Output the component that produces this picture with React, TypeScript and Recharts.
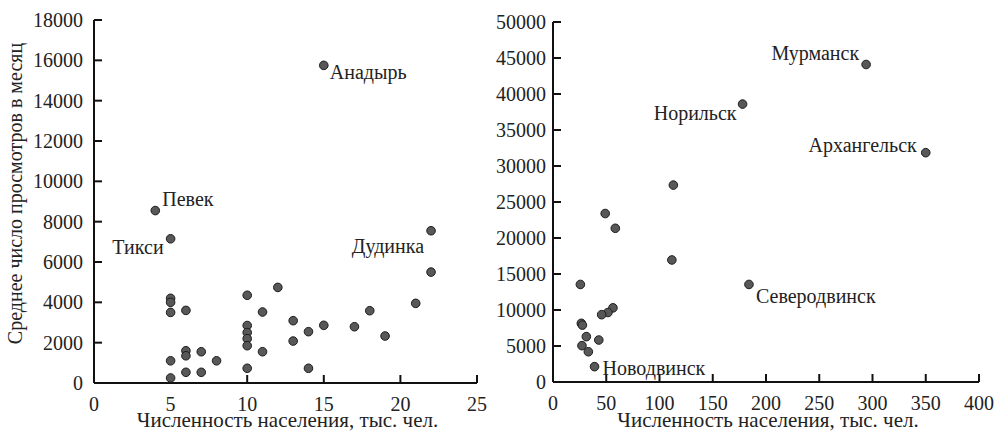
import { Scatter, ScatterChart, XAxis, YAxis } from 'recharts';

const FONT = '"Liberation Serif", "Times New Roman", serif';
const INK = '#222';
const textStyle = { fontFamily: FONT, fontSize: 20 };

// left panel: small towns
const smallPopulation = [4, 5, 15, 22, 22, 5, 5, 5, 5, 5, 6, 6, 6, 6, 7, 7, 8, 10, 10, 10, 10, 10, 10, 11, 11, 12, 13, 13, 14, 14, 15, 17, 18, 19, 21];
const smallViews = [8550, 7150, 15750, 7550, 5500, 4200, 4000, 3500, 1100, 250, 3600, 1600, 1350, 530, 1550, 530, 1100, 4350, 2850, 2500, 2200, 1850, 730, 3520, 1550, 4740, 3090, 2080, 2545, 730, 2860, 2790, 3585, 2330, 3950];
const smallNames = ['Певек', 'Тикси', 'Анадырь', 'Дудинка'];
const smallXTicks = [0, 5, 10, 15, 20, 25];
const smallYTicks = [0, 2000, 4000, 6000, 8000, 10000, 12000, 14000, 16000, 18000];

// right panel: larger cities
const bigPopulation = [294, 178, 350, 184, 39, 113, 49, 58.5, 111.6, 25.7, 56.3, 51.6, 45.7, 26.6, 27.6, 31.3, 43, 27.2, 33.2];
const bigViews = [44100, 38600, 31850, 13550, 2130, 27350, 23400, 21350, 16950, 13550, 10300, 9650, 9350, 8150, 7900, 6300, 5830, 5050, 4200];
const bigNames = ['Мурманск', 'Норильск', 'Архангельск', 'Северодвинск', 'Новодвинск'];
const bigXTicks = [0, 50, 100, 150, 200, 250, 300, 350, 400];
const bigYTicks = [0, 5000, 10000, 15000, 20000, 25000, 30000, 35000, 40000, 45000, 50000];

const xTitle = 'Численность населения, тыс. чел.';
const yTitle = 'Среднее число просмотров в месяц';

// where each city name sits relative to its dot
const labelPlacement: Record<string, { dx: number; dy: number; anchor: 'start' | 'end' }> = {
  Певек: { dx: 7, dy: -5, anchor: 'start' },
  Тикси: { dx: -7, dy: 15, anchor: 'end' },
  Анадырь: { dx: 6, dy: 14, anchor: 'start' },
  Дудинка: { dx: -7, dy: 22, anchor: 'end' },
  Мурманск: { dx: -7, dy: -4, anchor: 'end' },
  Норильск: { dx: -6, dy: 16, anchor: 'end' },
  Архангельск: { dx: -9, dy: -1, anchor: 'end' },
  Северодвинск: { dx: 7, dy: 19, anchor: 'start' },
  Новодвинск: { dx: 8, dy: 8, anchor: 'start' },
};

const buildRows = (xs: number[], ys: number[], names: string[]) =>
  xs.map((x, i) => ({ population: x, views: ys[i], name: names[i] ?? '' }));

const smallRows = buildRows(smallPopulation, smallViews, smallNames);
const bigRows = buildRows(bigPopulation, bigViews, bigNames);

const CityDot = (props: any) => {
  const { cx, cy, payload } = props;
  const place = payload?.name ? labelPlacement[payload.name] : undefined;
  return (
    <g>
      <circle cx={cx} cy={cy} r={4.3} fill="#585858" stroke="#1c1c1c" strokeWidth={1} />
      {place && (
        <text x={cx + place.dx} y={cy + place.dy} textAnchor={place.anchor} style={textStyle} fill={INK}>
          {payload.name}
        </text>
      )}
    </g>
  );
};

const XTick = ({ x, y, payload }: any) => (
  <text x={x} y={y} dy="0.71em" textAnchor="middle" style={textStyle} fill={INK}>
    {payload.value}
  </text>
);

const YTick = ({ x, y, payload }: any) => (
  <text x={x} y={y} dy="0.355em" textAnchor="end" style={textStyle} fill={INK}>
    {payload.value}
  </text>
);

const XTitle = ({ viewBox }: any) => {
  if (!viewBox) return null;
  return (
    <text
      x={viewBox.x + viewBox.width / 2 + 2}
      y={viewBox.y + viewBox.height - 10}
      textAnchor="middle"
      style={{ ...textStyle, fontSize: 21 }}
      fill={INK}
    >
      {xTitle}
    </text>
  );
};

const YTitle = ({ viewBox }: any) => {
  if (!viewBox) return null;
  const x = viewBox.x + 15;
  const y = viewBox.y + viewBox.height / 2 - 8;
  return (
    <text
      x={x}
      y={y}
      transform={`rotate(-90, ${x}, ${y})`}
      textAnchor="middle"
      dominantBaseline="central"
      style={textStyle}
      fill={INK}
    >
      {yTitle}
    </text>
  );
};

interface PanelProps {
  rows: { population: number; views: number; name: string }[];
  xTicks: number[];
  yTicks: number[];
  width: number;
  yWidth: number;
  yGap: number;
  top: number;
  right: number;
  bottom: number;
  showYTitle?: boolean;
}

function Panel({ rows, xTicks, yTicks, width, yWidth, yGap, top, right, bottom, showYTitle }: PanelProps) {
  return (
    <ScatterChart width={width} height={437} margin={{ top, right, bottom: 0, left: 0 }} style={{ fontFamily: FONT }}>
      <XAxis
        type="number"
        dataKey="population"
        domain={[xTicks[0], xTicks[xTicks.length - 1]]}
        ticks={xTicks}
        interval={0}
        height={bottom}
        stroke="#111"
        strokeWidth={2}
        tickSize={-8}
        tickMargin={22}
        tick={<XTick />}
        label={{ content: (p: any) => <XTitle {...p} /> }}
      />
      <YAxis
        type="number"
        dataKey="views"
        domain={[yTicks[0], yTicks[yTicks.length - 1]]}
        ticks={yTicks}
        interval={0}
        width={yWidth}
        stroke="#111"
        strokeWidth={2}
        tickSize={-8}
        tickMargin={8 + yGap}
        tick={<YTick />}
        label={showYTitle ? { content: (p: any) => <YTitle {...p} /> } : undefined}
      />
      <Scatter data={rows} shape={CityDot} isAnimationActive={false} />
    </ScatterChart>
  );
}

export default function App() {
  return (
    <div style={{ position: 'absolute', left: 0, top: 0, width: 1000, height: 437, background: '#fff', fontFamily: FONT }}>
      <div style={{ position: 'absolute', left: 0, top: 0 }}>
        <Panel
          rows={smallRows}
          xTicks={smallXTicks}
          yTicks={smallYTicks}
          width={490}
          yWidth={94}
          yGap={11}
          top={20}
          right={13}
          bottom={54}
          showYTitle
        />
      </div>
      <div style={{ position: 'absolute', left: 490, top: 0 }}>
        <Panel
          rows={bigRows}
          xTicks={bigXTicks}
          yTicks={bigYTicks}
          width={510}
          yWidth={63}
          yGap={7}
          top={22}
          right={21}
          bottom={55}
        />
      </div>
    </div>
  );
}
